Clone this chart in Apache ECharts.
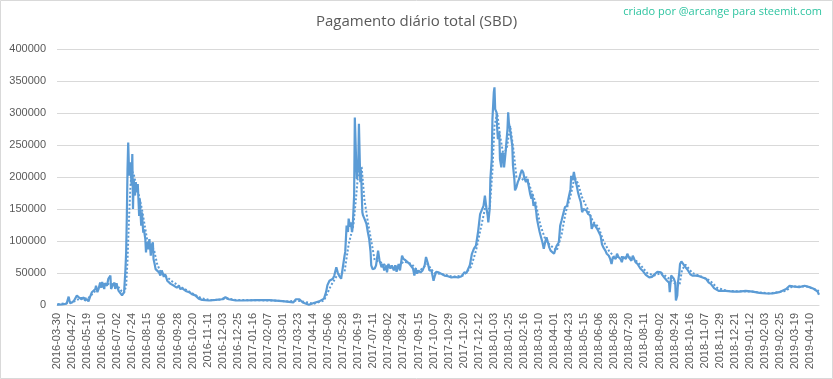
<!DOCTYPE html>
<html>
<head>
<meta charset="utf-8">
<script src="https://cdn.jsdelivr.net/npm/echarts@6/dist/echarts.min.js"></script>
<style>
html,body{margin:0;padding:0;background:#fff;}
#chart{width:833px;height:379px;}
</style>
</head>
<body>
<div id="chart"></div>
<script>
const chartTitle = 'Pagamento diário total (SBD)';
const creditText = 'criado por @arcange para steemit.com';
const firstCategory = '2016-03-30';
const dailyStart = '2016-04-06';
const dailyEnd = '2019-04-23';
const yTicks = [0, 50000, 100000, 150000, 200000, 250000, 300000, 350000, 400000];

// daily payout (SBD)
const payout = [
['2016-03-30',500],['2016-04-06',800],['2016-04-12',1000],['2016-04-19',2000],['2016-04-22',13000],['2016-04-24',3000],
['2016-04-27',4000],['2016-04-30',7000],['2016-05-04',14600],['2016-05-07',12000],['2016-05-11',9000],['2016-05-14',12000],
['2016-05-16',6800],['2016-05-19',9400],['2016-05-21',5700],['2016-05-23',12000],['2016-05-26',20000],['2016-05-28',22000],
['2016-05-31',25000],['2016-06-01',30000],['2016-06-03',20000],['2016-06-05',26000],['2016-06-07',35000],['2016-06-09',27000],
['2016-06-10',36000],['2016-06-13',25000],['2016-06-14',34000],['2016-06-17',30000],['2016-06-19',41000],['2016-06-22',46000],
['2016-06-23',25000],['2016-06-25',30000],['2016-06-28',35000],['2016-06-29',25000],['2016-07-01',34000],['2016-07-02',29000],
['2016-07-04',22000],['2016-07-06',20000],['2016-07-09',15000],['2016-07-10',17000],['2016-07-12',20000],['2016-07-14',56000],
['2016-07-15',82000],['2016-07-16',139000],['2016-07-17',212000],['2016-07-18',254000],['2016-07-19',217000],['2016-07-20',202000],
['2016-07-21',223000],['2016-07-23',187000],['2016-07-24',236000],['2016-07-25',150000],['2016-07-26',197000],['2016-07-28',171000],
['2016-07-29',192000],['2016-07-31',176000],['2016-08-01',189000],['2016-08-03',139000],['2016-08-04',165000],['2016-08-06',124000],
['2016-08-07',145000],['2016-08-09',113000],['2016-08-10',118000],['2016-08-12',103000],['2016-08-13',82000],['2016-08-14',98000],
['2016-08-16',87000],['2016-08-18',103000],['2016-08-20',77000],['2016-08-21',92000],['2016-08-23',98000],['2016-08-24',72000],
['2016-08-26',62000],['2016-08-27',56000],['2016-08-29',54000],['2016-09-01',51000],['2016-09-03',46000],['2016-09-05',54000],
['2016-09-08',44000],['2016-09-10',48000],['2016-09-13',38000],['2016-09-15',41000],['2016-09-18',33000],['2016-09-20',36000],
['2016-09-23',30000],['2016-09-25',31000],['2016-09-27',27000],['2016-09-30',30000],['2016-10-02',25000],['2016-10-05',26000],
['2016-10-10',22000],['2016-10-15',20000],['2016-10-19',17000],['2016-10-24',15000],['2016-10-29',10000],['2016-11-03',8000],
['2016-11-13',7000],['2016-11-23',8000],['2016-12-02',9000],['2016-12-07',12000],['2016-12-12',9000],['2016-12-22',7000],
['2017-01-01',7000],['2017-01-20',7500],['2017-02-09',7500],['2017-02-28',6000],['2017-03-10',5000],['2017-03-16',4000],
['2017-03-20',9000],['2017-03-25',9000],['2017-03-30',4000],['2017-04-01',1500],['2017-04-08',500],['2017-04-16',3600],
['2017-04-23',5700],['2017-04-30',10000],['2017-05-03',20000],['2017-05-05',31000],['2017-05-08',38000],['2017-05-10',36000],
['2017-05-13',41000],['2017-05-15',46000],['2017-05-18',59000],['2017-05-20',51000],['2017-05-22',46000],['2017-05-25',41000],
['2017-05-27',44000],['2017-05-30',77000],['2017-05-31',83000],['2017-06-02',124000],['2017-06-04',114000],['2017-06-05',135000],
['2017-06-07',122000],['2017-06-08',129000],['2017-06-10',114000],['2017-06-11',124000],['2017-06-13',171000],['2017-06-14',293000],
['2017-06-16',223000],['2017-06-17',197000],['2017-06-19',218000],['2017-06-20',283000],['2017-06-22',192000],['2017-06-23',212000],
['2017-06-25',145000],['2017-06-26',140000],['2017-06-28',135000],['2017-07-01',127000],['2017-07-03',114000],['2017-07-05',103000],
['2017-07-07',83000],['2017-07-08',62000],['2017-07-10',56000],['2017-07-13',57000],['2017-07-15',62000],['2017-07-18',85000],
['2017-07-20',70000],['2017-07-21',72000],['2017-07-23',59000],['2017-07-25',64000],['2017-07-27',54000],['2017-07-30',62000],
['2017-07-31',51000],['2017-08-02',64000],['2017-08-05',57000],['2017-08-07',62000],['2017-08-10',54000],['2017-08-12',62000],
['2017-08-14',52000],['2017-08-17',64000],['2017-08-19',54000],['2017-08-22',77000],['2017-08-24',72000],['2017-08-27',70000],
['2017-08-30',67000],['2017-09-02',64000],['2017-09-04',62000],['2017-09-07',57000],['2017-09-09',46000],['2017-09-11',57000],
['2017-09-13',49000],['2017-09-15',54000],['2017-09-18',51000],['2017-09-21',54000],['2017-09-24',62000],['2017-09-26',75000],
['2017-09-29',64000],['2017-10-01',54000],['2017-10-04',54000],['2017-10-07',38000],['2017-10-09',46000],['2017-10-11',52000],
['2017-10-14',51000],['2017-10-18',49000],['2017-10-23',46000],['2017-10-28',45000],['2017-11-02',43000],['2017-11-07',44000],
['2017-11-12',43000],['2017-11-17',45000],['2017-11-21',51000],['2017-11-24',50000],['2017-11-29',62000],['2017-12-02',80000],
['2017-12-05',88000],['2017-12-08',93000],['2017-12-11',114000],['2017-12-14',142000],['2017-12-16',145000],['2017-12-19',155000],
['2017-12-21',171000],['2017-12-23',153000],['2017-12-25',140000],['2017-12-26',129000],['2017-12-28',150000],['2017-12-29',197000],
['2017-12-31',228000],['2018-01-01',290000],['2018-01-03',332000],['2018-01-04',340000],['2018-01-05',306000],['2018-01-07',301000],
['2018-01-08',275000],['2018-01-09',259000],['2018-01-11',270000],['2018-01-12',228000],['2018-01-14',215000],['2018-01-15',238000],
['2018-01-17',233000],['2018-01-18',215000],['2018-01-20',236000],['2018-01-21',249000],['2018-01-23',275000],['2018-01-24',301000],
['2018-01-25',285000],['2018-01-27',272000],['2018-01-28',264000],['2018-01-30',249000],['2018-01-31',218000],['2018-02-02',197000],
['2018-02-03',179000],['2018-02-05',184000],['2018-02-07',192000],['2018-02-09',197000],['2018-02-11',205000],['2018-02-13',211000],
['2018-02-15',207000],['2018-02-17',197000],['2018-02-19',192000],['2018-02-21',197000],['2018-02-23',186000],['2018-02-25',174000],
['2018-02-27',166000],['2018-02-28',174000],['2018-03-02',155000],['2018-03-04',161000],['2018-03-06',145000],['2018-03-07',135000],
['2018-03-09',124000],['2018-03-11',114000],['2018-03-13',106000],['2018-03-15',98000],['2018-03-17',88000],['2018-03-19',98000],
['2018-03-21',106000],['2018-03-23',98000],['2018-03-25',90000],['2018-03-27',85000],['2018-03-29',84000],['2018-04-01',80000],
['2018-04-03',87000],['2018-04-05',93000],['2018-04-08',98000],['2018-04-10',124000],['2018-04-12',132000],['2018-04-15',145000],
['2018-04-17',153000],['2018-04-20',155000],['2018-04-22',166000],['2018-04-25',181000],['2018-04-26',202000],['2018-04-28',195000],
['2018-04-30',208000],['2018-05-02',195000],['2018-05-04',187000],['2018-05-06',176000],['2018-05-08',168000],['2018-05-10',161000],
['2018-05-12',145000],['2018-05-14',150000],['2018-05-16',153000],['2018-05-18',148000],['2018-05-19',150000],['2018-05-21',142000],
['2018-05-24',140000],['2018-05-26',119000],['2018-05-29',127000],['2018-05-31',124000],['2018-06-03',119000],['2018-06-05',119000],
['2018-06-08',108000],['2018-06-10',95000],['2018-06-12',90000],['2018-06-15',85000],['2018-06-17',80000],['2018-06-20',77000],
['2018-06-22',72000],['2018-06-24',64000],['2018-06-26',75000],['2018-06-28',77000],['2018-06-30',72000],['2018-07-02',80000],
['2018-07-04',75000],['2018-07-05',77000],['2018-07-07',72000],['2018-07-09',67000],['2018-07-11',75000],['2018-07-13',77000],
['2018-07-15',72000],['2018-07-17',80000],['2018-07-19',75000],['2018-07-21',77000],['2018-07-23',69000],['2018-07-25',77000],
['2018-07-27',72000],['2018-07-29',67000],['2018-08-01',64000],['2018-08-03',62000],['2018-08-05',57000],['2018-08-08',54000],
['2018-08-10',51000],['2018-08-13',47000],['2018-08-15',48000],['2018-08-18',43000],['2018-08-20',46000],['2018-08-22',44000],
['2018-08-25',47000],['2018-08-27',48000],['2018-08-30',52000],['2018-09-01',54000],['2018-09-04',51000],['2018-09-06',47000],
['2018-09-09',43000],['2018-09-11',41000],['2018-09-13',38000],['2018-09-16',35000],['2018-09-17',20000],['2018-09-19',46000],
['2018-09-21',43000],['2018-09-23',41000],['2018-09-25',35000],['2018-09-26',7000],['2018-09-28',15000],['2018-09-29',35000],
['2018-10-01',51000],['2018-10-02',64000],['2018-10-04',68000],['2018-10-06',66000],['2018-10-08',62000],['2018-10-10',59000],
['2018-10-13',55000],['2018-10-15',54000],['2018-10-17',48000],['2018-10-20',46000],['2018-10-22',43000],['2018-10-25',46000],
['2018-10-27',43000],['2018-10-30',45000],['2018-11-01',42000],['2018-11-04',43000],['2018-11-06',46000],['2018-11-09',41000],
['2018-11-11',38000],['2018-11-13',35000],['2018-11-16',33000],['2018-11-18',30000],['2018-11-21',26000],['2018-11-23',23000],
['2018-11-28',22000],['2018-12-08',22000],['2018-12-18',21000],['2018-12-27',21000],['2019-01-06',22000],['2019-01-16',21000],
['2019-01-26',19000],['2019-02-05',18000],['2019-02-14',18000],['2019-02-24',20000],['2019-03-06',25000],['2019-03-11',30000],
['2019-03-16',29000],['2019-03-25',28000],['2019-04-02',30000],['2019-04-09',28000],['2019-04-16',25000],['2019-04-21',21000],
['2019-04-23',16000]
];

// dotted trend line
const trend = [
['2016-04-06',1000],['2016-04-20',3000],['2016-05-01',6000],['2016-05-10',11000],['2016-05-20',10000],['2016-05-31',22000],
['2016-06-10',30000],['2016-06-20',33000],['2016-07-01',32000],['2016-07-08',22000],['2016-07-12',19000],['2016-07-15',30000],
['2016-07-17',70000],['2016-07-19',130000],['2016-07-21',180000],['2016-07-23',210000],['2016-07-26',205000],['2016-07-30',185000],
['2016-08-03',170000],['2016-08-07',150000],['2016-08-11',125000],['2016-08-15',100000],['2016-08-20',95000],['2016-08-25',85000],
['2016-08-29',65000],['2016-09-03',52000],['2016-09-10',46000],['2016-09-20',37000],['2016-09-30',30000],['2016-10-10',24000],
['2016-10-20',18000],['2016-11-01',11000],['2016-11-15',7500],['2016-12-01',8500],['2016-12-10',10000],['2016-12-22',8000],
['2017-01-15',7500],['2017-02-15',7000],['2017-03-10',5500],['2017-03-22',7000],['2017-04-01',5000],['2017-04-15',2000],
['2017-04-30',7000],['2017-05-10',30000],['2017-05-20',48000],['2017-05-30',52000],['2017-06-05',95000],['2017-06-12',125000],
['2017-06-16',170000],['2017-06-20',220000],['2017-06-24',215000],['2017-06-28',165000],['2017-07-03',130000],['2017-07-08',100000],
['2017-07-13',70000],['2017-07-20',68000],['2017-08-01',60000],['2017-08-15',60000],['2017-08-25',68000],['2017-09-05',64000],
['2017-09-15',52000],['2017-09-28',64000],['2017-10-08',50000],['2017-10-20',48000],['2017-11-05',44000],['2017-11-20',46000],
['2017-12-01',60000],['2017-12-08',85000],['2017-12-15',120000],['2017-12-22',155000],['2017-12-28',150000],['2018-01-01',210000],
['2018-01-04',280000],['2018-01-08',300000],['2018-01-12',265000],['2018-01-17',235000],['2018-01-22',245000],['2018-01-27',280000],
['2018-02-01',240000],['2018-02-05',200000],['2018-02-12',195000],['2018-02-20',200000],['2018-02-27',178000],['2018-03-05',160000],
['2018-03-12',125000],['2018-03-20',100000],['2018-03-28',92000],['2018-04-05',85000],['2018-04-12',110000],['2018-04-18',145000],
['2018-04-25',170000],['2018-05-01',200000],['2018-05-06',190000],['2018-05-12',168000],['2018-05-20',150000],['2018-05-28',130000],
['2018-06-05',122000],['2018-06-12',100000],['2018-06-20',85000],['2018-06-28',75000],['2018-07-10',75000],['2018-07-25',74000],
['2018-08-05',63000],['2018-08-15',50000],['2018-08-25',46000],['2018-09-05',50000],['2018-09-15',42000],['2018-09-26',32000],
['2018-10-01',30000],['2018-10-05',55000],['2018-10-10',63000],['2018-10-20',50000],['2018-11-01',45000],['2018-11-15',38000],
['2018-11-25',27000],['2018-12-10',22000],['2019-01-15',21000],['2019-02-10',18000],['2019-03-05',22000],['2019-03-15',29000],
['2019-04-05',29000],['2019-04-23',22000]
];

function buildCategories() {
  const cats = [firstCategory];
  const d = new Date(dailyStart + 'T00:00:00Z');
  const end = new Date(dailyEnd + 'T00:00:00Z');
  while (d <= end) {
    cats.push(d.toISOString().slice(0, 10));
    d.setUTCDate(d.getUTCDate() + 1);
  }
  return cats;
}
const categories = buildCategories();

const chart = echarts.init(document.getElementById('chart'), null, {renderer: 'canvas'});
const labelColor = '#595959';
const lineColor = '#5b9bd5';
chart.setOption({
  animation: false,
  backgroundColor: '#ffffff',
  title: {
    text: chartTitle,
    left: 'center',
    top: 9,
    textStyle: {fontFamily: 'Open Sans', fontSize: 15, fontWeight: 'normal', color: labelColor}
  },
  graphic: [
    {type: 'rect', shape: {x: 0.5, y: 0.5, width: 832, height: 378}, style: {fill: 'none', stroke: '#d9d9d9', lineWidth: 1}, silent: true},
    {type: 'text', right: 11, top: 6, style: {text: creditText, fill: '#2ec4a0', font: '11px "Open Sans"'}}
  ],
  grid: {left: 57, right: 14, top: 49, bottom: 74, containLabel: false},
  xAxis: {
    type: 'category',
    data: categories,
    boundaryGap: false,
    axisLine: {lineStyle: {color: '#d9d9d9'}},
    axisTick: {show: false},
    axisLabel: {rotate: 90, interval: 21, color: labelColor, fontSize: 11, fontFamily: 'Liberation Sans', margin: 8}
  },
  yAxis: {
    type: 'value',
    min: yTicks[0],
    max: yTicks[yTicks.length - 1],
    interval: yTicks[1] - yTicks[0],
    axisLine: {show: false},
    axisTick: {show: false},
    axisLabel: {color: labelColor, fontSize: 11, fontFamily: 'Liberation Sans', margin: 11,
                formatter: function (v) { return String(v); }},
    splitLine: {lineStyle: {color: '#d9d9d9'}}
  },
  series: [
    {type: 'line', name: 'Tendência', data: trend, showSymbol: false, symbol: 'none',
     lineStyle: {color: lineColor, width: 2, type: 'dotted'}, z: 2},
    {type: 'line', name: 'Pagamento', data: payout, showSymbol: false, symbol: 'none',
     lineStyle: {color: lineColor, width: 2.2}, z: 3}
  ]
});
</script>
</body>
</html>
